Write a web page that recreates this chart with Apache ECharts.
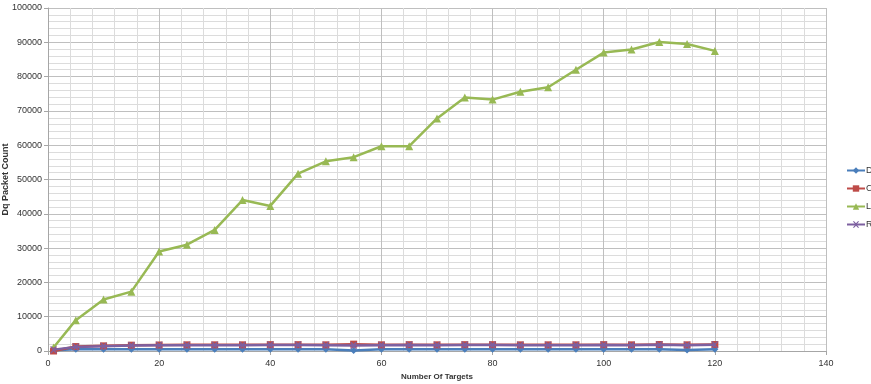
<!DOCTYPE html>
<html>
<head>
<meta charset="utf-8">
<script src="https://cdn.jsdelivr.net/npm/echarts@6/dist/echarts.min.js"></script>
<style>
  html, body { margin: 0; padding: 0; background: #fff; }
  #chart { width: 871px; height: 384px; }
</style>
</head>
<body>
<div id="chart"></div>
<script>
const targets = [1, 5, 10, 15, 20, 25, 30, 35, 40, 45, 50, 55, 60, 65, 70, 75, 80, 85, 90, 95, 100, 105, 110, 115, 120];
const seriesNames = ['DSR', 'CBRP', 'LAR', 'RIP'];
const dValues = [200, 500, 500, 500, 500, 500, 500, 500, 500, 500, 500, 150, 500, 500, 500, 500, 500, 500, 500, 500, 500, 500, 500, 300, 500];
const cValues = [0, 1300, 1500, 1700, 1750, 1800, 1800, 1800, 1850, 1850, 1800, 2000, 1800, 1850, 1800, 1850, 1850, 1800, 1800, 1800, 1850, 1800, 1900, 1800, 1900];
const lValues = [1000, 9000, 15000, 17300, 29000, 31000, 35300, 44000, 42300, 51700, 55300, 56500, 59700, 59700, 67800, 73900, 73300, 75600, 76900, 82000, 87000, 87900, 90100, 89500, 87500];
const rValues = [400, 1200, 1400, 1600, 1650, 1700, 1700, 1700, 1750, 1750, 1700, 1600, 1700, 1750, 1700, 1750, 1750, 1700, 1700, 1700, 1750, 1700, 1800, 1700, 1800];
const colors = ['#4A7EBB', '#BE4B48', '#98B954', '#7D60A0'];

const crossPath = 'path://M0,0 L2,0 L5,3 L8,0 L10,0 L6,5 L10,10 L8,10 L5,7 L2,10 L0,10 L4,5 Z';
const symbols = ['diamond', 'rect', 'triangle', crossPath];
const sizes = [7, 7, 8, 7];
const zOrder = [2, 3, 2, 4];
const valueSets = [dValues, cValues, lValues, rValues];

const chart = echarts.init(document.getElementById('chart'));
const gridColor = '#BFBFBF';
const minorColor = '#DCDCDC';
const fontFamily = 'Liberation Sans, Arial, sans-serif';

chart.setOption({
  animation: false,
  grid: { left: 48, right: 45, top: 8, bottom: 33, containLabel: false, outerBoundsMode: 'none' },
  legend: {
    orient: 'vertical',
    left: 846,
    top: 166,
    itemWidth: 18,
    itemHeight: 8,
    itemGap: 9,
    padding: 0,
    textStyle: { fontSize: 9, color: '#333', fontFamily: fontFamily, padding: [0, 0, 0, -4], width: 60, overflow: 'none' },
    data: seriesNames
  },
  xAxis: {
    type: 'value',
    min: 0, max: 140, interval: 20,
    name: 'Number Of Targets',
    nameLocation: 'middle',
    nameGap: 22,
    nameMoveOverlap: false,
    nameTextStyle: { fontSize: 8, fontWeight: 'bold', color: '#333', fontFamily: fontFamily },
    axisLine: { lineStyle: { color: '#A6A6A6' } },
    axisTick: { show: true, length: 4, lineStyle: { color: '#A6A6A6' } },
    axisLabel: { fontSize: 9, color: '#333', fontFamily: fontFamily, margin: 8 },
    splitLine: { show: true, lineStyle: { color: gridColor, width: 1 } },
    minorTick: { show: false, splitNumber: 5 },
    minorSplitLine: { show: true, lineStyle: { color: minorColor, width: 1 } }
  },
  yAxis: {
    type: 'value',
    min: 0, max: 100000, interval: 10000,
    name: 'Dq Packet Count',
    nameLocation: 'middle',
    nameGap: 38,
    nameMoveOverlap: false,
    nameTextStyle: { fontSize: 9, fontWeight: 'bold', color: '#333', fontFamily: fontFamily },
    axisLine: { show: true, lineStyle: { color: '#A6A6A6' } },
    axisTick: { show: true, length: 4, lineStyle: { color: '#A6A6A6' } },
    axisLabel: { fontSize: 9, color: '#333', fontFamily: fontFamily, margin: 6, formatter: v => String(v) },
    splitLine: { show: true, lineStyle: { color: gridColor, width: 1 } },
    minorTick: { show: false, splitNumber: 5 },
    minorSplitLine: { show: true, lineStyle: { color: minorColor, width: 1 } }
  },
  series: seriesNames.map((name, i) => ({
    name: name,
    type: 'line',
    data: targets.map((t, j) => [t, valueSets[i][j]]),
    symbol: symbols[i],
    symbolSize: sizes[i],
    showAllSymbol: true,
    z: zOrder[i],
    lineStyle: { color: colors[i], width: 2.5 },
    itemStyle: { color: colors[i] }
  }))
});
</script>
</body>
</html>
